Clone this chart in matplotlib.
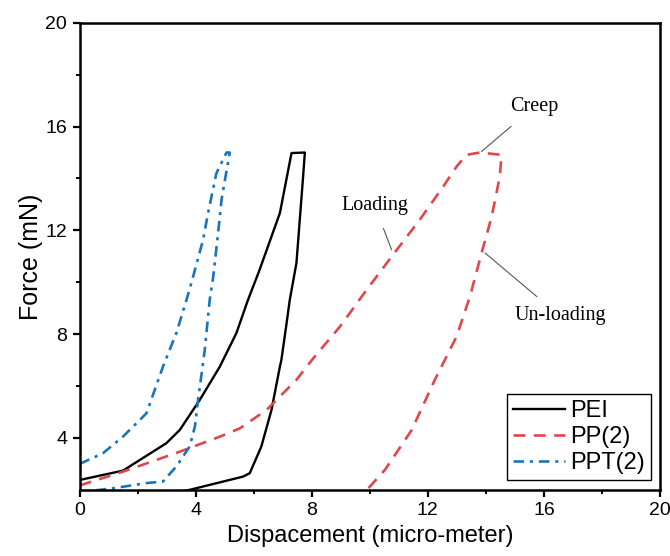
import numpy as np
import matplotlib
matplotlib.use("Agg")
import matplotlib.pyplot as plt

# ── Dati (spostamento in micro-metri, forza in mN) ────────────────────────────
pei_x = [0.0, 1.49, 2.99, 3.45, 4.14, 4.83, 5.4, 5.8, 6.2, 6.9, 7.3, 7.76,
         7.7, 7.47, 7.24, 7.13, 6.95, 6.9, 6.61, 6.26, 5.86, 5.63, 3.79, 3.3]
pei_y = [2.38, 2.74, 3.8, 4.31, 5.47, 6.75, 8.04, 9.32, 10.48, 12.67, 14.98,
         15.0, 14.08, 10.74, 9.32, 8.42, 7.0, 6.75, 5.08, 3.67, 2.64, 2.51,
         2.0, 1.9]

pp_x = [0.0, 1.49, 3.45, 4.83, 5.52, 6.44, 7.47, 8.05, 8.97, 9.89, 10.8,
        11.72, 12.53, 12.99, 13.33, 13.79, 14.54, 14.48, 14.2, 13.85, 13.45,
        12.99, 12.24, 11.44, 10.52, 9.9, 9.8]
pp_y = [2.17, 2.7, 3.47, 4.05, 4.37, 5.08, 6.24, 7.07, 8.29, 9.71, 11.06,
        12.41, 13.69, 14.46, 14.91, 15.0, 14.91, 14.08, 12.53, 11.12, 9.45,
        7.91, 6.24, 4.3, 2.77, 2.0, 1.85]

ppt_x = [0.0, 0.8, 1.49, 2.3, 2.87, 3.33, 3.68, 3.88, 4.25, 4.43, 4.71, 5.06,
         5.17, 4.89, 4.77, 4.6, 4.48, 4.31, 4.08, 3.97, 3.79, 3.33, 2.87, 2.3,
         1.15, 0.69, 0.3]
ppt_y = [3.0, 3.41, 4.05, 4.95, 6.75, 8.04, 9.32, 10.1, 11.63, 12.7, 14.2,
         15.0, 15.0, 13.2, 11.9, 10.2, 9.32, 7.39, 5.47, 4.44, 3.67, 2.9, 2.32,
         2.26, 2.06, 2.0, 1.95]

# annotazioni: (testo, posizione testo, punto indicato)
notes = [("Creep", (15.66, 16.76), (13.85, 15.04)),
         ("Loading", (10.17, 12.95), (10.75, 11.25)),
         ("Un-loading", (16.55, 8.7), (13.97, 11.13))]

COL_PEI = "black"
COL_PP = "#e0474c"
COL_PPT = "#1a75b8"

plt.rcParams["font.family"] = ["Liberation Sans", "DejaVu Sans"]

fig = plt.figure(figsize=(6.7, 5.56), dpi=100)
ax = fig.add_axes([0.119, 0.119, 0.866, 0.840])

ax.plot(pei_x, pei_y, color=COL_PEI, lw=1.7, label="PEI")
ax.plot(pp_x, pp_y, color=COL_PP, lw=1.9, dashes=(4.5, 3.2), label="PP(2)")
ax.plot(ppt_x, ppt_y, color=COL_PPT, lw=1.9, dashes=(4, 2.2, 1.2, 2.2),
        label="PPT(2)")

for txt, xy_t, xy_p in notes:
    ax.annotate(txt, xy=xy_p, xytext=xy_t, ha="center", va="center",
                fontsize=14.5, family="Liberation Serif",
                arrowprops=dict(arrowstyle="-", color="#555555", lw=0.8,
                                shrinkA=8, shrinkB=0))

ax.set_xlim(0, 20)
ax.set_ylim(2, 20)
ax.set_xticks([0, 4, 8, 12, 16, 20])
ax.set_yticks([4, 8, 12, 16, 20])
ax.set_xticks([2, 6, 10, 14, 18], minor=True)
ax.set_yticks([6, 10, 14, 18], minor=True)
ax.tick_params(which="major", direction="out", length=5, width=1.6,
               labelsize=14, pad=4)
ax.tick_params(which="minor", direction="out", length=3, width=1.4)
for s in ax.spines.values():
    s.set_linewidth(1.8)

ax.set_xlabel("Dispacement (micro-meter)", fontsize=17, labelpad=4)
ax.set_ylabel("Force (mN)", fontsize=18, labelpad=2)

leg = ax.legend(loc="lower right", fontsize=17, handlelength=2.2,
                handletextpad=0.2, borderpad=0.25, labelspacing=0.18,
                borderaxespad=0.4, fancybox=False, framealpha=1)
leg.get_frame().set_edgecolor("black")
leg.get_frame().set_linewidth(1.0)

fig.savefig("out.png", dpi=100)
